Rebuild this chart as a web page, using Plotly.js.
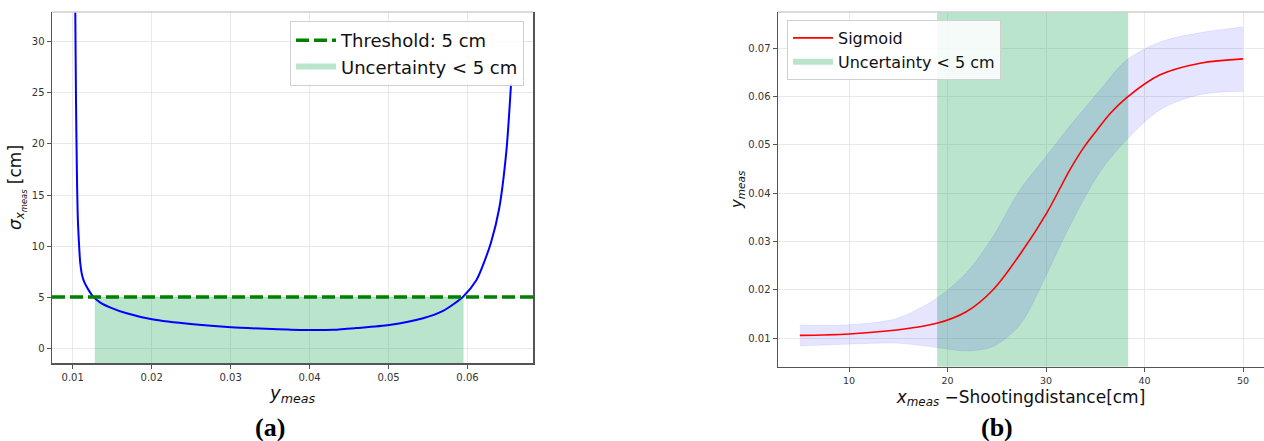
<!DOCTYPE html>
<html><head><meta charset="utf-8">
<script src="https://cdn.plot.ly/plotly-3.0.1.min.js"></script>
<style>html,body{margin:0;padding:0;background:#fff}#chart{width:1264px;height:441px}</style>
</head><body><div id="chart"></div>
<script>
// ---------- Panel (a): sigma_x vs y_meas ----------
const yMeasA = [0.01022, 0.01033, 0.01042, 0.01052, 0.01063, 0.01078, 0.01095, 0.01120, 0.01150, 0.01200, 0.01260, 0.01350, 0.01472, 0.01684, 0.02004, 0.02527, 0.03008, 0.03450, 0.03877, 0.04300, 0.04595, 0.05008, 0.05438, 0.05691, 0.05944, 0.06114, 0.06200, 0.06300, 0.06400, 0.06494, 0.06552];
const sigmaA  = [45.0, 32.9, 24.3, 18.0, 13.2, 10.5, 8.4, 7.1, 6.4, 5.7, 5.03, 4.45, 3.99, 3.40, 2.81, 2.32, 2.03, 1.88, 1.77, 1.78, 1.95, 2.25, 2.91, 3.63, 5.03, 6.67, 8.2, 10.4, 13.6, 19.4, 25.9];
const thresholdCm = 5;
const okRangeA = [0.0128, 0.0595];
const xRangeA = [0.00738, 0.0683];
const yRangeA = [-1.47, 32.94];
const xTicksA = [0.01, 0.02, 0.03, 0.04, 0.05, 0.06];
const yTicksA = [0, 5, 10, 15, 20, 25, 30];

// ---------- Panel (b): sigmoid fit ----------
const distB    = [5, 10, 14.8, 18.9, 21.9, 24.6, 27.5, 30.06, 32.43, 33.8, 35.14, 36.6, 38.19, 41.58, 45.64, 50];
const sigmoidB = [0.0106, 0.0109, 0.0117, 0.0131, 0.0155, 0.0200, 0.0278, 0.0359, 0.0449, 0.0494, 0.0530, 0.0567, 0.0598, 0.0645, 0.0669, 0.0678];
const bandX     = [5, 10, 14.8, 18.9, 21.9, 24.6, 27.35, 30, 32.1, 35.5, 38.2, 41.6, 45.6, 50];
const bandUpper = [0.01275, 0.0128, 0.0141, 0.0183, 0.0235, 0.0310, 0.0407, 0.0476, 0.0531, 0.0614, 0.0676, 0.0713, 0.0732, 0.0744];
const bandLower = [0.0084, 0.0088, 0.0090, 0.0081, 0.0074, 0.0083, 0.0128, 0.0230, 0.0320, 0.0445, 0.0511, 0.0573, 0.0604, 0.0611];
const okRangeB = [18.94, 38.34];
const xRangeB = [2.78, 52.13];
const yRangeB = [0.00412, 0.0775];
const xTicksB = [10, 20, 30, 40, 50];
const yTicksB = [0.01, 0.02, 0.03, 0.04, 0.05, 0.06, 0.07];

const GREEN_FILL = 'rgba(60,179,113,0.35)';
const W = 1264, H = 441;
const px = v => v / W, py = v => 1 - v / H;

const traces = [
  { // green region (a)
    x: [okRangeA[0], okRangeA[1], okRangeA[1], okRangeA[0], okRangeA[0]],
    y: [yRangeA[0], yRangeA[0], thresholdCm, thresholdCm, yRangeA[0]],
    xaxis: 'x', yaxis: 'y', mode: 'none', fill: 'toself', fillcolor: GREEN_FILL,
    name: 'Uncertainty < 5 cm', legend: 'legend', legendrank: 2, hoverinfo: 'skip'
  },
  {
    x: yMeasA, y: sigmaA, xaxis: 'x', yaxis: 'y', mode: 'lines',
    line: { color: '#0000ff', width: 2, shape: 'spline', smoothing: 0.7 },
    showlegend: false
  },
  {
    x: xRangeA, y: [thresholdCm, thresholdCm], xaxis: 'x', yaxis: 'y', mode: 'lines',
    line: { color: '#008000', width: 3.5, dash: '13px,5px' },
    name: 'Threshold: 5 cm', legend: 'legend', legendrank: 1
  },
  { // green region (b)
    x: [okRangeB[0], okRangeB[1], okRangeB[1], okRangeB[0], okRangeB[0]],
    y: [yRangeB[0], yRangeB[0], yRangeB[1], yRangeB[1], yRangeB[0]],
    xaxis: 'x2', yaxis: 'y2', mode: 'none', fill: 'toself', fillcolor: GREEN_FILL,
    name: 'Uncertainty < 5 cm', legend: 'legend2', legendrank: 2, hoverinfo: 'skip'
  },
  {
    x: bandX, y: bandLower, xaxis: 'x2', yaxis: 'y2', mode: 'lines',
    line: { color: 'rgba(0,0,255,0.08)', width: 1, shape: 'spline', smoothing: 0.9 },
    showlegend: false
  },
  {
    x: bandX, y: bandUpper, xaxis: 'x2', yaxis: 'y2', mode: 'lines', fill: 'tonexty',
    fillcolor: 'rgba(0,0,255,0.1)',
    line: { color: 'rgba(0,0,255,0.08)', width: 1, shape: 'spline', smoothing: 0.9 },
    showlegend: false
  },
  {
    x: distB, y: sigmoidB, xaxis: 'x2', yaxis: 'y2', mode: 'lines',
    line: { color: '#ff0000', width: 1.6, shape: 'spline', smoothing: 1 },
    name: 'Sigmoid', legend: 'legend2', legendrank: 1
  }
];

const tickFont = { family: 'DejaVu Sans', size: 10, color: '#333' };
const axBase = {
  showgrid: true, gridcolor: '#e8e8e8', gridwidth: 1, zeroline: false,
  showline: true, linecolor: '#555', linewidth: 1.5,
  ticks: 'outside', ticklen: 4, tickcolor: '#555', tickwidth: 1,
  tickfont: tickFont, automargin: false
};

const layout = {
  width: W, height: H, margin: { l: 0, r: 0, t: 0, b: 0 },
  paper_bgcolor: '#fff', plot_bgcolor: '#fff',
  font: { family: 'DejaVu Sans', color: '#222' },
  xaxis: Object.assign({}, axBase, {
    domain: [px(52), px(533)], range: xRangeA, tickvals: xTicksA, tickformat: '.2f',
    anchor: 'y',
    title: { text: '<i>y</i><sub><i>meas</i></sub>', font: { size: 18, color: '#111' }, standoff: 4 }
  }),
  yaxis: Object.assign({}, axBase, {
    domain: [py(363), py(12)], range: yRangeA, tickvals: yTicksA, mirror: true,
    anchor: 'x',
    title: { text: '<i>σ</i><sub><i>x</i><sub><i>meas</i></sub></sub> [cm]', font: { size: 17, color: '#111' }, standoff: 6 }
  }),
  xaxis2: Object.assign({}, axBase, {
    domain: [px(778), 1], range: xRangeB, tickvals: xTicksB, anchor: 'y2',
    tickfont: Object.assign({}, tickFont, { size: 9.5 }),
    title: { text: '<i>x</i><sub><i>meas</i></sub> −Shootingdistance[cm]', font: { size: 17, color: '#111' }, standoff: 6 }
  }),
  yaxis2: Object.assign({}, axBase, {
    domain: [py(366.7), py(12)], range: yRangeB, tickvals: yTicksB, tickformat: '.2f', anchor: 'x2',
    title: { text: '<i>y</i><sub><i>meas</i></sub>', font: { size: 15, color: '#111' }, standoff: 2 }
  }),
  legend: {
    x: px(524), xanchor: 'right', y: py(21), yanchor: 'top',
    bgcolor: 'rgba(255,255,255,0.85)', bordercolor: '#d0d0d0', borderwidth: 1,
    font: { family: 'DejaVu Sans', size: 18, color: '#111' }, itemwidth: 40, traceorder: 'normal'
  },
  legend2: {
    x: px(787), xanchor: 'left', y: py(20), yanchor: 'top',
    bgcolor: 'rgba(255,255,255,0.85)', bordercolor: '#d0d0d0', borderwidth: 1,
    font: { family: 'DejaVu Sans', size: 16, color: '#111' }, itemwidth: 40, traceorder: 'normal'
  },
  shapes: [
    { type: 'line', xref: 'paper', yref: 'paper', x0: px(52), x1: px(533), y0: py(12), y1: py(12), line: { color: '#cfcfcf', width: 1.5 } },
    { type: 'line', xref: 'paper', yref: 'paper', x0: px(778), x1: 1, y0: py(12), y1: py(12), line: { color: '#cfcfcf', width: 1.5 } }
  ],
  annotations: [
    { text: '<b>(a)</b>', xref: 'paper', yref: 'paper', x: px(270), y: py(427), xanchor: 'center', yanchor: 'middle', showarrow: false, font: { family: 'Liberation Serif', size: 26, color: '#000' } },
    { text: '<b>(b)</b>', xref: 'paper', yref: 'paper', x: px(997), y: py(427), xanchor: 'center', yanchor: 'middle', showarrow: false, font: { family: 'Liberation Serif', size: 26, color: '#000' } }
  ]
};

Plotly.newPlot('chart', traces, layout, { displayModeBar: false, staticPlot: true });
</script>
</body></html>
